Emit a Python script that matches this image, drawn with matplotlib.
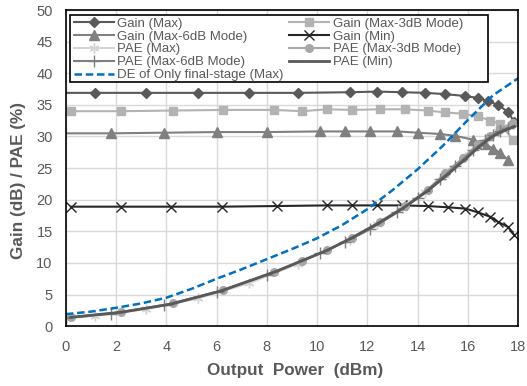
import matplotlib.pyplot as plt
from matplotlib.patches import Rectangle

plt.rcParams['font.family'] = ['Liberation Sans', 'DejaVu Sans']

# output power positions (dBm) per mode
x_max = [-0.9, 1.15, 3.2, 5.25, 7.3, 9.25, 11.3, 12.4, 13.4, 14.3, 15.1, 15.9, 16.4, 16.8, 17.2, 17.6, 17.85]
x_3db = [0.2, 2.2, 4.25, 6.25, 8.3, 9.4, 10.4, 11.4, 12.5, 13.5, 14.4, 15.1, 15.8, 16.4, 16.9, 17.3, 17.8]
x_6db = [-0.2, 1.8, 3.9, 6.0, 8.0, 10.1, 11.1, 12.1, 13.2, 14.0, 14.9, 15.5, 16.2, 16.7, 17.0, 17.3, 17.6]
x_min = [0.2, 2.2, 4.2, 6.2, 8.4, 10.4, 11.4, 12.4, 13.4, 14.4, 15.2, 15.9, 16.4, 16.9, 17.2, 17.6, 17.85]
x_pae_max = [0.0, 1.15, 3.2, 5.25, 7.3, 9.25, 11.3, 12.4, 13.4, 14.3, 15.1, 15.9, 16.4, 16.8, 17.2, 17.6, 17.85]
x_pae_6db = [0.0, 1.8, 3.9, 6.0, 8.0, 10.1, 11.1, 12.1, 13.2, 14.0, 14.9, 15.5, 16.2, 16.7, 17.0, 17.3, 17.6]
x_de = [0, 1, 2, 3, 4, 5, 6, 7, 8, 9, 10, 11, 12, 13, 14, 15, 16, 17, 18]

gain_max = [36.9, 36.9, 36.9, 36.9, 36.9, 36.9, 37.0, 37.1, 37.0, 36.9, 36.7, 36.4, 36.1, 35.6, 35.0, 33.9, 32.3]
gain_3db = [34.0, 34.0, 34.1, 34.2, 34.2, 34.0, 34.3, 34.2, 34.3, 34.3, 34.1, 33.8, 33.6, 33.2, 32.5, 32.0, 29.5]
gain_6db = [30.5, 30.5, 30.6, 30.7, 30.7, 30.8, 30.8, 30.8, 30.8, 30.6, 30.4, 30.1, 29.5, 28.8, 28.1, 27.4, 26.3]
gain_min = [18.9, 18.9, 18.9, 18.9, 19.0, 19.1, 19.1, 19.1, 19.1, 19.0, 18.8, 18.6, 18.0, 17.3, 16.5, 15.7, 14.4]

pae_max = [1.3, 1.6, 2.7, 4.4, 6.8, 9.9, 13.7, 16.2, 18.7, 21.2, 23.9, 26.8, 28.6, 29.8, 30.8, 31.6, 32.0]
pae_3db = [1.4, 2.2, 3.6, 5.7, 8.6, 10.3, 12.0, 14.0, 16.5, 19.0, 21.6, 24.2, 26.6, 28.8, 30.1, 31.2, 32.1]
pae_6db = [1.3, 2.0, 3.3, 5.4, 8.1, 11.5, 13.3, 15.3, 18.0, 20.3, 23.2, 25.3, 27.8, 29.4, 30.2, 30.9, 31.4]
pae_min = [1.4, 2.2, 3.5, 5.6, 8.7, 12.0, 14.0, 16.2, 18.6, 21.4, 24.0, 26.4, 28.2, 29.8, 30.5, 31.2, 31.6]

de_final = [1.9, 2.3, 2.9, 3.6, 4.5, 5.9, 7.5, 9.0, 10.6, 12.2, 13.9, 16.0, 18.5, 21.5, 24.8, 28.5, 32.6, 36.5, 39.2]

fig = plt.figure(figsize=(5.27, 3.86), dpi=100)
ax = fig.add_axes([0.125, 0.155, 0.858, 0.819])

h = {}
h['gmax'], = ax.plot(x_max, gain_max, color='#595959', marker='D', ms=5, lw=1.5, label='Gain (Max)')
h['g3'], = ax.plot(x_3db, gain_3db, color='#b3b3b3', marker='s', ms=6, lw=1.5, label='Gain (Max-3dB Mode)')
h['g6'], = ax.plot(x_6db, gain_6db, color='#808080', marker='^', ms=6.5, lw=1.5, label='Gain (Max-6dB Mode)')
h['gmin'], = ax.plot(x_min, gain_min, color='#262626', marker='x', ms=7, mew=1, lw=1.5, label='Gain (Min)')
h['pmax'], = ax.plot(x_pae_max, pae_max, color='#d4d4d4', marker=(6, 2, 0), ms=7, mew=1, lw=1.5, label='PAE (Max)')
h['p3'], = ax.plot(x_3db, pae_3db, color='#a6a6a6', marker='o', ms=5.5, lw=1.5, label='PAE (Max-3dB Mode)')
h['p6'], = ax.plot(x_pae_6db, pae_6db, color='#7f7f7f', marker='+', ms=8, mew=1, lw=1.5, label='PAE (Max-6dB Mode)')
h['pmin'], = ax.plot(x_min, pae_min, color='#595959', marker='_', ms=3, lw=2, label='PAE (Min)')
h['de'], = ax.plot(x_de, de_final, color='#0070c0', ls=(0, (3, 1.5)), lw=1.8, label='DE of Only final-stage (Max)')

ax.set_xlim(0, 18)
ax.set_ylim(0, 50)
ax.set_xticks(range(0, 19, 2))
ax.set_yticks(range(0, 51, 5))
ax.grid(True, color='#d9d9d9', lw=1)
ax.set_axisbelow(True)
for s in ax.spines.values():
    s.set_color('black')
    s.set_linewidth(1.2)
ax.tick_params(length=0, labelsize=10.5, labelcolor='#595959')
ax.tick_params(axis='x', pad=10)
ax.tick_params(axis='y', pad=9.5)
ax.set_xlabel('Output  Power  (dBm)', fontsize=12.3, fontweight='bold', color='#595959')
ax.set_ylabel('Gain (dB) / PAE (%)', fontsize=12.3, fontweight='bold', color='#595959')
ax.xaxis.set_label_coords(0.507, -0.117)
ax.yaxis.set_label_coords(-0.088, 0.462)

# legend box (Excel style, wider than its contents)
ax.add_patch(Rectangle((0.0088, 0.772), 0.925, 0.212, transform=ax.transAxes,
                       facecolor='white', edgecolor='black', lw=1.2, zorder=4))

order = ['gmax', 'g6', 'pmax', 'p6', 'de', 'g3', 'gmin', 'p3', 'pmin']
leg = ax.legend([h[k] for k in order], [h[k].get_label() for k in order], ncol=2,
                loc='upper left', bbox_to_anchor=(0.012, 0.985), fontsize=9.5,
                frameon=False, handlelength=3, labelspacing=0.05, columnspacing=0.4,
                handletextpad=0.3, borderpad=0.2, borderaxespad=0)
leg.set_zorder(5)
for t in leg.get_texts():
    t.set_color('#595959')

fig.savefig('out.png', dpi=100)
